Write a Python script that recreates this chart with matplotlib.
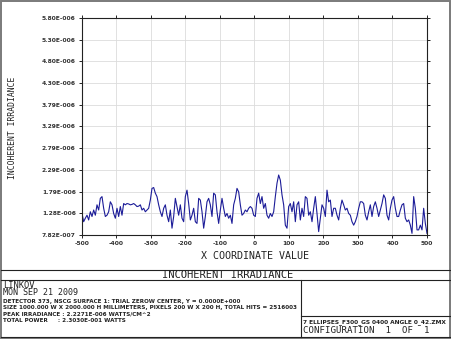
import numpy as np
import matplotlib
matplotlib.use("Agg")
import matplotlib.pyplot as plt
from matplotlib.lines import Line2D

# ---- data (irradiance in units of 1e-6 W/cm^2) ----
irr_left = [1.28, 1.09, 1.17, 1.24, 1.13, 1.32, 1.21, 1.36, 1.24, 1.48, 1.36, 1.63, 1.67, 1.40, 1.21,
            1.24, 1.32, 1.55, 1.48, 1.28, 1.17, 1.40, 1.21, 1.44, 1.24, 1.51, 1.48, 1.51, 1.50, 1.48,
            1.49, 1.51, 1.48, 1.44, 1.45, 1.48, 1.36, 1.40, 1.32, 1.36, 1.40, 1.59, 1.86, 1.88, 1.75,
            1.67, 1.48, 1.32, 1.21, 1.40, 1.48, 1.24, 1.09, 1.36, 0.94, 1.21, 1.63, 1.44, 1.24, 1.48,
            1.17, 1.09, 1.67, 1.82, 1.51, 1.13, 1.24, 1.40, 1.09, 1.05, 1.63, 1.59, 1.32, 0.94, 1.21,
            1.55, 1.63, 1.48, 1.21, 1.75, 1.71, 1.32, 1.05, 1.36, 1.63, 1.40, 1.21, 1.28, 1.17, 1.24,
            1.05, 1.48, 1.63, 1.86, 1.78, 1.48, 1.24, 1.28, 1.36, 1.32, 1.40, 1.44, 1.40, 1.24, 1.21,
            1.63, 1.75, 1.51, 1.67, 1.40, 1.51, 1.24, 1.17, 1.28]
irr_right = [1.21, 1.32, 1.67, 1.98, 2.17, 2.05, 1.71, 1.48, 1.01, 0.94, 1.44, 1.51, 1.32, 1.55, 1.09,
             1.48, 1.55, 1.13, 1.40, 1.21, 1.67, 1.63, 1.24, 1.32, 1.09, 1.40, 1.67, 1.28, 0.86, 1.17,
             1.48, 1.40, 1.21, 1.82, 1.55, 1.59, 1.21, 1.40, 1.40, 1.24, 1.13, 1.40, 1.59, 1.48, 1.36,
             1.40, 1.28, 1.24, 1.09, 1.01, 1.09, 1.21, 1.40, 1.55, 1.55, 1.51, 1.24, 1.13, 1.32, 1.48,
             1.21, 1.44, 1.55, 1.40, 1.21, 1.36, 1.51, 1.71, 1.63, 1.24, 1.13, 1.40, 1.59, 1.67, 1.40,
             1.21, 1.21, 1.36, 1.48, 1.51, 1.17, 1.09, 1.13, 1.01, 0.82, 1.67, 1.40, 0.90, 0.90, 1.01,
             0.90, 1.40, 1.05, 0.82]
irradiance = np.array(irr_left + irr_right) * 1e-6
x_coord = np.linspace(-500, 500, len(irradiance))

x_ticks = [-500, -400, -300, -200, -100, 0, 100, 200, 300, 400, 500]
y_ticks = [7.8200e-7, 1.2840e-6, 1.7860e-6, 2.2880e-6, 2.7900e-6, 3.2920e-6,
           3.7940e-6, 4.2960e-6, 4.7980e-6, 5.3000e-6, 5.8020e-6]

title = "INCOHERENT IRRADIANCE"
xlabel = "X COORDINATE VALUE"
ylabel = "INCOHERENT IRRADIANCE"
info_big = ["LINKOV", "MON SEP 21 2009"]
info_small = ["DETECTOR 373, NSCG SURFACE 1: TRIAL ZEROW CENTER, Y = 0.0000E+000",
              "SIZE 1000.000 W X 2000.000 H MILLIMETERS, PIXELS 200 W X 200 H, TOTAL HITS = 2516003",
              "PEAK IRRADIANCE : 2.2271E-006 WATTS/CM^2",
              "TOTAL POWER     : 2.3030E-001 WATTS"]
file_name = "7 ELLIPSES_F300_GS 0400 ANGLE 0_42.ZMX"
config = "CONFIGURATION  1  OF  1"

W, H = 452, 349
fig = plt.figure(figsize=(W / 100, H / 100), dpi=100)
fig.patch.set_facecolor("white")

def fx(px):
    return px / W

def fy(py):
    return 1 - py / H

ax = fig.add_axes([fx(82), fy(235), fx(427) - fx(82), fy(18) - fy(235)])
ax.plot(x_coord, irradiance, color="#1c1c98", lw=0.8)
ax.set_xlim(-500, 500)
ax.set_ylim(y_ticks[0], y_ticks[-1])
ax.set_xticks(x_ticks)
ax.set_xticklabels([str(v) for v in x_ticks])
ax.set_yticks(y_ticks)

def efmt(v):
    m, e = f"{v:.2E}".split("E")
    sign = "-" if int(e) < 0 else "+"
    return f"{m}E{sign}{abs(int(e)):03d}"

ax.set_yticklabels([efmt(v) for v in y_ticks])
ax.grid(True, color="#dcdcdc", lw=0.6)
ax.set_axisbelow(True)
ax.tick_params(axis="both", which="both", direction="out", length=2.5, width=0.6,
               labelsize=4.3, pad=2, top=True, right=True)
for lab in ax.get_xticklabels() + ax.get_yticklabels():
    lab.set_fontweight("bold")
    lab.set_color("#333333")
for sp in ax.spines.values():
    sp.set_linewidth(0.8)
    sp.set_color("#222222")

mono = "DejaVu Sans Mono"
fig.text(fx(255), fy(256), xlabel, ha="center", va="center", fontsize=7.2,
         family=mono, color="#222222")
fig.text(fx(13), fy(128), ylabel, ha="center", va="center", fontsize=5.8,
         family=mono, rotation=90, color="#222222")

# bottom info box
def hline(py, x0=1, x1=450, c="#222222", lw=0.8):
    fig.add_artist(Line2D([fx(x0), fx(x1)], [fy(py), fy(py)], color=c, lw=lw))

def vline(px, y0, y1, c="#222222", lw=0.8):
    fig.add_artist(Line2D([fx(px), fx(px)], [fy(y0), fy(y1)], color=c, lw=lw))

hline(270)
hline(280)
hline(337)
vline(301, 280, 337)
hline(316, 301, 450)
# outer frame
fig.add_artist(plt.Rectangle((fx(0.8), fy(338)), fx(450.4) - fx(0.8), fy(0.8) - fy(338),
                             fill=False, ec="#7a7a7a", lw=1.4))

fig.text(fx(228), fy(275), title, ha="center", va="center", fontsize=7.5,
         family=mono, color="#222222")
fig.text(fx(3), fy(285), info_big[0], ha="left", va="center", fontsize=6.3,
         family=mono, color="#222222")
fig.text(fx(3), fy(292.8), info_big[1], ha="left", va="center", fontsize=6.0,
         family=mono, color="#222222")
for s, y in zip(info_small, [301.5, 307.8, 314, 321]):
    fig.text(fx(3), fy(y), s, ha="left", va="center", fontsize=4.05,
             family="DejaVu Sans", fontweight="bold", color="#222222")
fig.text(fx(303), fy(322), file_name, ha="left", va="center", fontsize=4.2,
         family="DejaVu Sans", fontweight="bold", color="#222222")
fig.text(fx(303), fy(330.5), config, ha="left", va="center", fontsize=6.6,
         family=mono, color="#222222")

fig.savefig("out.png", dpi=100)
